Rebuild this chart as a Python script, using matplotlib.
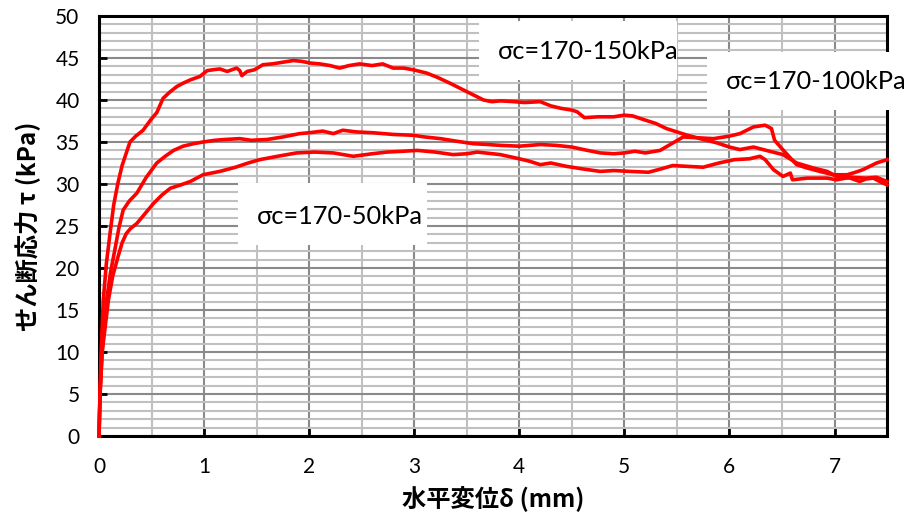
import matplotlib
matplotlib.use("Agg")
import matplotlib.pyplot as plt
from matplotlib.patches import Rectangle
from matplotlib.ticker import MultipleLocator

# Shear stress vs horizontal displacement
d150 = [0, 0.01, 0.02, 0.041, 0.07, 0.105, 0.14, 0.18, 0.22, 0.26, 0.295,
        0.35, 0.42, 0.49, 0.55, 0.61, 0.67, 0.74, 0.8, 0.87, 0.96, 1.03,
        1.085, 1.15, 1.22, 1.31, 1.34, 1.36, 1.41, 1.48, 1.56, 1.65, 1.75,
        1.85, 1.93, 2.01, 2.1, 2.2, 2.29, 2.38, 2.48, 2.6, 2.7, 2.8, 2.9,
        2.99, 3.12, 3.22, 3.34, 3.42, 3.5, 3.58, 3.66, 3.74, 3.82, 3.95,
        4.05, 4.2, 4.3, 4.4, 4.5, 4.55, 4.62, 4.75, 4.9, 5.0, 5.08, 5.2,
        5.3, 5.4, 5.5, 5.6, 5.75, 5.88, 6.0, 6.1, 6.23, 6.35, 6.51, 6.64,
        6.8, 6.93, 7.02, 7.15, 7.24, 7.3, 7.37, 7.43, 7.5]
t150 = [0, 5, 10, 16.2, 20.5, 24.1, 27.5, 30.1, 32.2, 33.7, 35.0, 35.7,
        36.4, 37.6, 38.5, 40.2, 40.9, 41.6, 42.0, 42.4, 42.8, 43.5, 43.6,
        43.7, 43.4, 43.8, 43.5, 42.9, 43.4, 43.6, 44.2, 44.3, 44.5, 44.7,
        44.6, 44.4, 44.3, 44.1, 43.8, 44.1, 44.3, 44.1, 44.3, 43.8, 43.8,
        43.6, 43.2, 42.7, 42.0, 41.5, 41.0, 40.5, 40.0, 39.8, 39.9, 39.8,
        39.7, 39.8, 39.3, 39.0, 38.8, 38.6, 37.9, 38.0, 38.0, 38.2, 38.1,
        37.6, 37.2, 36.6, 36.2, 35.8, 35.3, 34.9, 34.4, 34.1, 34.4, 34.0,
        33.5, 32.5, 31.9, 31.5, 30.9, 30.7, 30.3, 30.6, 30.7, 30.3, 29.9]

d100 = [0, 0.01, 0.03, 0.073, 0.11, 0.15, 0.19, 0.23, 0.29, 0.36, 0.45,
        0.55, 0.63, 0.71, 0.8, 0.9, 0.99, 1.1, 1.2, 1.34, 1.45, 1.6, 1.75,
        1.91, 2.0, 2.13, 2.23, 2.32, 2.45, 2.61, 2.8, 2.99, 3.1, 3.25, 3.4,
        3.56, 3.7, 3.82, 4.0, 4.2, 4.35, 4.5, 4.65, 4.77, 4.9, 5.0, 5.1,
        5.2, 5.34, 5.45, 5.56, 5.7, 5.85, 6.0, 6.1, 6.23, 6.34, 6.4, 6.43,
        6.5, 6.58, 6.64, 6.74, 6.86, 6.99, 7.12, 7.2, 7.27, 7.4, 7.5]
t100 = [0, 5, 10, 16.2, 19.5, 22.1, 24.8, 26.9, 28.0, 28.9, 30.8, 32.5,
        33.3, 34.0, 34.5, 34.8, 35.0, 35.2, 35.3, 35.4, 35.2, 35.3, 35.6,
        36.0, 36.1, 36.3, 36.0, 36.4, 36.2, 36.1, 35.9, 35.8, 35.6, 35.4,
        35.1, 34.8, 34.7, 34.6, 34.5, 34.7, 34.6, 34.4, 34.0, 33.7, 33.6,
        33.7, 33.9, 33.7, 34.0, 34.8, 35.6, 35.5, 35.4, 35.7, 36.0, 36.8,
        37.0, 36.6, 35.2, 34.2, 33.1, 32.3, 31.9, 31.5, 31.1, 31.1, 31.4,
        31.7, 32.5, 32.9]

d50 = [0, 0.01, 0.03, 0.09, 0.13, 0.18, 0.22, 0.26, 0.3, 0.36, 0.44, 0.52,
       0.6, 0.68, 0.78, 0.87, 0.99, 1.15, 1.3, 1.42, 1.53, 1.7, 1.88, 2.05,
       2.23, 2.42, 2.6, 2.74, 2.9, 3.03, 3.2, 3.37, 3.5, 3.6, 3.82, 4.0,
       4.1, 4.2, 4.3, 4.45, 4.6, 4.77, 4.9, 5.05, 5.23, 5.35, 5.46, 5.6,
       5.75, 5.9, 6.05, 6.19, 6.29, 6.34, 6.42, 6.51, 6.58, 6.6, 6.74,
       6.93, 7.02, 7.15, 7.3, 7.4, 7.5]
t50 = [0, 5, 10, 16.2, 19.0, 21.3, 23.0, 24.1, 24.7, 25.3, 26.5, 27.7,
       28.7, 29.5, 29.9, 30.3, 31.1, 31.5, 32.0, 32.5, 32.9, 33.3, 33.7,
       33.8, 33.7, 33.3, 33.6, 33.8, 33.9, 34.0, 33.8, 33.5, 33.6, 33.8,
       33.5, 33.0, 32.7, 32.3, 32.5, 32.1, 31.8, 31.5, 31.6, 31.5, 31.4,
       31.8, 32.2, 32.1, 32.0, 32.5, 32.9, 33.0, 33.3, 32.9, 31.7, 30.9,
       31.3, 30.5, 30.7, 30.7, 30.5, 30.8, 30.7, 30.8, 30.3]

labels = ["σc=170-150kPa", "σc=170-100kPa", "σc=170-50kPa"]
# label box (x0, x1, y0, y1) and text anchor, in data units
boxes = [(3.62, 5.50, 42.4, 49.4), (5.79, 7.9, 38.8, 45.7),
         (1.32, 3.12, 22.7, 30.1)]
anchors = [(3.80, 45.8), (5.97, 42.2), (1.50, 26.1)]

JP = ["Noto Sans CJK JP", "DejaVu Sans"]
TICK = ["Lato", "DejaVu Sans"]


def main():
    fig = plt.figure(figsize=(9.14, 5.30), dpi=100)
    ax = fig.add_axes([0.1083, 0.1774, 0.8622, 0.7924])

    for d, t in [(d150, t150), (d100, t100), (d50, t50)]:
        ax.plot(d, t, color="#FF0000", lw=2.6, zorder=4, clip_on=False)

    ax.set_xlim(0, 7.5)
    ax.set_ylim(0, 50)
    ax.xaxis.set_major_locator(MultipleLocator(1))
    ax.xaxis.set_minor_locator(MultipleLocator(0.5))
    ax.yaxis.set_major_locator(MultipleLocator(5))
    ax.yaxis.set_minor_locator(MultipleLocator(1))

    # gridlines: minor lighter, major darker
    ax.grid(which="minor", color="#C0C0C0", lw=1.5, zorder=0)
    ax.grid(which="major", color="#8A8A8A", lw=1.5, zorder=0)
    ax.set_axisbelow(True)

    for s in ax.spines.values():
        s.set_linewidth(2.2)
        s.set_color("black")

    ax.tick_params(which="major", direction="in", length=6, width=2,
                   labelsize=15)
    ax.tick_params(axis="x", pad=15)
    ax.tick_params(axis="y", pad=14)
    ax.tick_params(which="minor", length=0)
    for lab in ax.get_xticklabels() + ax.get_yticklabels():
        lab.set_family(TICK)

    ax.set_xlabel("水平変位δ (mm)", family=JP, fontweight="bold",
                  fontsize=17.5, labelpad=7)
    ax.set_ylabel("せん断応力 τ (kPa)", family=JP, fontweight="bold",
                  fontsize=17.5, labelpad=11)

    # white label boxes with the confining pressure text
    for (x0, x1, y0, y1), (tx, ty), txt in zip(boxes, anchors, labels):
        ax.add_patch(Rectangle((x0, y0), x1 - x0, y1 - y0, facecolor="white",
                               edgecolor="none", zorder=5, clip_on=False))
        ax.text(tx, ty, txt, ha="left", va="center", fontsize=18.3,
                family=TICK, zorder=6)

    fig.savefig("out.png", dpi=100)


if __name__ == "__main__":
    main()
